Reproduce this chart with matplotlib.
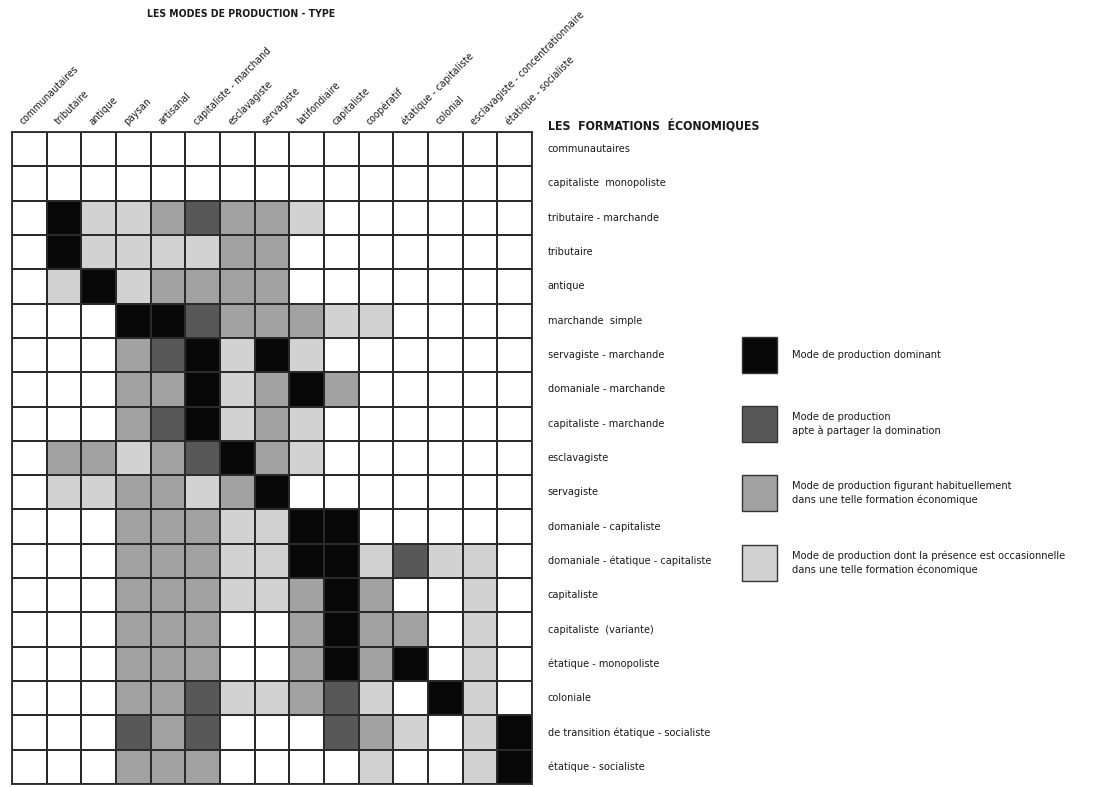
import numpy as np
import matplotlib
matplotlib.use("Agg")
import matplotlib.pyplot as plt
from matplotlib.colors import ListedColormap, BoundaryNorm
from matplotlib.patches import Rectangle

plt.rcParams['font.family'] = ['Liberation Sans Narrow', 'DejaVu Sans']
plt.rcParams['font.stretch'] = 'condensed'

# Modes de production (colonnes)
modes = ['communautaires', 'tributaire', 'antique', 'paysan', 'artisanal',
         'capitaliste - marchand', 'esclavagiste', 'servagiste', 'latifondiaire',
         'capitaliste', 'coopératif', 'étatique - capitaliste', 'colonial',
         'esclavagiste - concentrationnaire', 'étatique - socialiste']

# Formations économiques (lignes)
formations = ['communautaires', 'capitaliste  monopoliste', 'tributaire - marchande',
              'tributaire', 'antique', 'marchande  simple', 'servagiste - marchande',
              'domaniale - marchande', 'capitaliste - marchande', 'esclavagiste',
              'servagiste', 'domaniale - capitaliste',
              'domaniale - étatique - capitaliste', 'capitaliste',
              'capitaliste  (variante)', 'étatique - monopoliste', 'coloniale',
              'de transition étatique - socialiste', 'étatique - socialiste']

# 0 absent, 1 occasionnel, 2 habituel, 3 partage la domination, 4 dominant
matrix = [
    [0, 0, 0, 0, 0, 0, 0, 0, 0, 0, 0, 0, 0, 0, 0],
    [0, 0, 0, 0, 0, 0, 0, 0, 0, 0, 0, 0, 0, 0, 0],
    [0, 4, 1, 1, 2, 3, 2, 2, 1, 0, 0, 0, 0, 0, 0],
    [0, 4, 1, 1, 1, 1, 2, 2, 0, 0, 0, 0, 0, 0, 0],
    [0, 1, 4, 1, 2, 2, 2, 2, 0, 0, 0, 0, 0, 0, 0],
    [0, 0, 0, 4, 4, 3, 2, 2, 2, 1, 1, 0, 0, 0, 0],
    [0, 0, 0, 2, 3, 4, 1, 4, 1, 0, 0, 0, 0, 0, 0],
    [0, 0, 0, 2, 2, 4, 1, 2, 4, 2, 0, 0, 0, 0, 0],
    [0, 0, 0, 2, 3, 4, 1, 2, 1, 0, 0, 0, 0, 0, 0],
    [0, 2, 2, 1, 2, 3, 4, 2, 1, 0, 0, 0, 0, 0, 0],
    [0, 1, 1, 2, 2, 1, 2, 4, 0, 0, 0, 0, 0, 0, 0],
    [0, 0, 0, 2, 2, 2, 1, 1, 4, 4, 0, 0, 0, 0, 0],
    [0, 0, 0, 2, 2, 2, 1, 1, 4, 4, 1, 3, 1, 1, 0],
    [0, 0, 0, 2, 2, 2, 1, 1, 2, 4, 2, 0, 0, 1, 0],
    [0, 0, 0, 2, 2, 2, 0, 0, 2, 4, 2, 2, 0, 1, 0],
    [0, 0, 0, 2, 2, 2, 0, 0, 2, 4, 2, 4, 0, 1, 0],
    [0, 0, 0, 2, 2, 3, 1, 1, 2, 3, 1, 0, 4, 1, 0],
    [0, 0, 0, 3, 2, 3, 0, 0, 0, 3, 2, 1, 0, 1, 4],
    [0, 0, 0, 2, 2, 2, 0, 0, 0, 0, 1, 0, 0, 1, 4],
]

level_colors = ['#ffffff', '#d2d2d2', '#a2a2a2', '#585858', '#080808']
legend_levels = [4, 3, 2, 1]
legend_labels = ['Mode de production dominant',
                 'Mode de production\napte à partager la domination',
                 'Mode de production figurant habituellement\ndans une telle formation économique',
                 'Mode de production dont la présence est occasionnelle\ndans une telle formation économique']

W, H = 1093, 787
fig = plt.figure(figsize=(W / 100, H / 100), dpi=100)
fig.patch.set_facecolor('white')

# grille principale
gx0, gx1, gy0, gy1 = 12, 532, 132, 784
ax = fig.add_axes([gx0 / W, 1 - gy1 / H, (gx1 - gx0) / W, (gy1 - gy0) / H])
data = np.array(matrix)
cmap = ListedColormap(level_colors)
norm = BoundaryNorm(np.arange(-0.5, 5.5, 1), cmap.N)
ax.pcolormesh(np.arange(len(modes) + 1), np.arange(len(formations) + 1), data,
              cmap=cmap, norm=norm, edgecolors='#2a2a2a', linewidth=1.1)
ax.set_xlim(0, len(modes))
ax.set_ylim(len(formations), 0)
ax.set_xticks([])
ax.set_yticks([])
for s in ax.spines.values():
    s.set_linewidth(1.3)
    s.set_color('#2a2a2a')

for i, m in enumerate(modes):
    ax.text(i + 0.38, -0.15, m, rotation=45, rotation_mode='anchor', ha='left', va='bottom',
            fontsize=7.5, color='#1a1a1a')

for j, f in enumerate(formations):
    ax.text(len(modes) + 0.45, j + 0.5, f, ha='left', va='center', fontsize=7.8,
            color='#1a1a1a')

fig.text(147 / W, 1 - 14 / H, 'LES MODES DE PRODUCTION - TYPE', ha='left', va='center',
         fontsize=7.5, fontweight='bold', color='#1a1a1a')
fig.text(548 / W, 1 - 127 / H, 'LES  FORMATIONS  ÉCONOMIQUES', ha='left', va='center',
         fontsize=8.8, fontweight='bold', color='#1a1a1a')

# légende
lax = fig.add_axes([0, 0, 1, 1], facecolor='none')
lax.set_xlim(0, W)
lax.set_ylim(H, 0)
lax.axis('off')
leg_tops = [337, 406, 475, 545]
for lv, lab, top in zip(legend_levels, legend_labels, leg_tops):
    lax.add_patch(Rectangle((742, top), 35, 36, facecolor=level_colors[lv],
                            edgecolor='#333333', linewidth=1.0))
    lax.text(792, top + 18, lab, ha='left', va='center', fontsize=7.9,
             linespacing=1.45, color='#1a1a1a')

fig.savefig('out.png', dpi=100, facecolor='white')
